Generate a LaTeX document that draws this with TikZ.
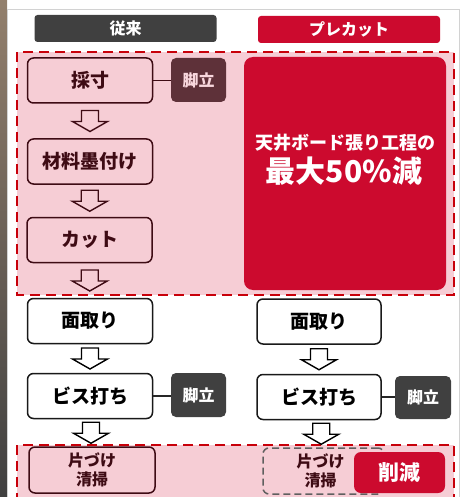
\documentclass[tikz,border=0pt]{standalone}
\usepackage{fontspec}
\setmainfont{Noto Sans CJK JP}
\usetikzlibrary{calc}
\definecolor{pinkbg}{HTML}{F6CDD5}
\definecolor{redbox}{HTML}{CC0A2E}
\definecolor{dashred}{HTML}{C8000A}
\definecolor{maroon}{HTML}{3E0B14}
\definecolor{tagmaroon}{HTML}{5E3139}
\definecolor{darkgrey}{HTML}{404040}
\definecolor{dashgrey}{HTML}{5F5F5F}
\tikzset{
  region/.style={draw=dashred, line width=2.8pt, dash pattern=on 10pt off 6pt, fill=pinkbg},
  procbox/.style={rectangle, rounded corners=6pt, line width=1.5pt, inner sep=0pt,
    minimum width=125pt, minimum height=45pt, font=\bfseries\fontsize{19}{21}\selectfont},
  pinkbox/.style={procbox, draw=maroon, fill=pinkbg, text=maroon},
  whitebox/.style={procbox, draw=black!90, fill=white, text=black},
  tagbox/.style={rectangle, rounded corners=5pt, inner sep=0pt, minimum width=55pt,
    minimum height=44pt, font=\bfseries\fontsize{16}{18}\selectfont},
  header/.style={rectangle, rounded corners=3pt, inner sep=0pt, minimum height=27pt,
    minimum width=182pt, text=white, font=\bfseries\fontsize{16}{18}\selectfont},
  conn/.style={line width=1.6pt},
  bigtext/.style={inner sep=0pt, text=white},
}
\newcommand\hdown[4]{%
  \draw[line width=1.4pt, draw=#3, fill=#4, line join=miter]
    let \p1=($(#1.south)!0.5!(#2.north)$) in
    (\x1-8.5pt,\y1+10.5pt) -- (\x1+8.5pt,\y1+10.5pt) -- (\x1+8.5pt,\y1-0.5pt)
    -- (\x1+17.5pt,\y1-0.5pt) -- (\x1,\y1-10.5pt) -- (\x1-17.5pt,\y1-0.5pt)
    -- (\x1-8.5pt,\y1-0.5pt) -- cycle;}
\begin{document}
\begin{tikzpicture}[x=1pt,y=-1pt]
\useasboundingbox (0,0) rectangle (462,497);
% photo strip and panel
\shade[top color=gray!70!brown, bottom color=black!75] (0,0) rectangle (7,497);
\draw[gray!35, line width=1pt, fill=white] (7.5,10) rectangle (459,520);
% headers
\node[header, fill=darkgrey] (hA) at (125.5,28.5) {従来};
\node[header, fill=redbox] (hB) at (349,29.5) {プレカット};
% regions
\draw[region] (17,52) rectangle (454,295);
\draw[region] (17,445) rectangle (454,520);
% big red box
\node[rectangle, rounded corners=9pt, fill=redbox, minimum width=202pt, minimum height=233pt,
  inner sep=0pt] (big) at (345,173.5) {};
\node[bigtext, font=\bfseries\fontsize{18}{20}\selectfont] (big1) at (345,143) {天井ボード張り工程の};
\node[bigtext, font=\bfseries\fontsize{30}{32}\selectfont] (big2) at (344,171) {最大50\%減};
% left column
\node[pinkbox] (a1) at (90,80.5) {採寸};
\node[tagbox, fill=tagmaroon, text=pinkbg!80!white] (t1) at (198.5,80) {脚立};
\node[pinkbox] (a2) at (90,161.5) {材料墨付け};
\node[pinkbox] (a3) at (89.5,240) {カット};
\node[whitebox] (a4) at (90,321) {面取り};
\node[whitebox] (a5) at (90,396) {ビス打ち};
\node[tagbox, fill=darkgrey, text=white] (t5) at (198.5,395) {脚立};
\node[pinkbox, minimum width=126pt, minimum height=46pt, align=center,
  font=\bfseries\fontsize{16}{19}\selectfont] (a6) at (92,470) {片づけ\\清掃};
% right column
\node[whitebox, minimum width=124pt] (b4) at (319,321.5) {面取り};
\node[whitebox, minimum width=124pt] (b5) at (319,397) {ビス打ち};
\node[tagbox, fill=darkgrey, text=white, minimum width=56pt, minimum height=43pt] (u5) at (423,397.5) {脚立};
\node[procbox, draw=dashgrey, dashed, dash pattern=on 7pt off 4pt, fill=none, text=maroon,
  minimum width=121pt, minimum height=46pt, align=center,
  font=\bfseries\fontsize{16}{19}\selectfont] (b6) at (323.5,471) {\hspace*{-6pt}片づけ\\\hspace*{-6pt}清掃};
\node[rectangle, rounded corners=7pt, fill=redbox, text=white, inner sep=0pt,
  minimum width=91pt, minimum height=41pt, font=\bfseries\fontsize{21}{22}\selectfont] (cut) at (399.5,472.5) {削減};
% connectors
\draw[conn, draw=maroon] (a1.east) -- (a1.east -| t1.west);
\draw[conn, draw=black!85] (a5.east) -- (a5.east -| t5.west);
\draw[conn, draw=black!85] (b5.east) -- (b5.east -| u5.west);
% hollow arrows
\hdown{a1}{a2}{maroon}{pinkbg}
\hdown{a2}{a3}{maroon}{pinkbg}
\hdown{a3}{a4}{maroon}{none}
\hdown{a4}{a5}{black}{white}
\hdown{a5}{a6}{black}{white}
\hdown{b4}{b5}{black}{white}
\hdown{b5}{b6}{black}{white}
\end{tikzpicture}
\end{document}
